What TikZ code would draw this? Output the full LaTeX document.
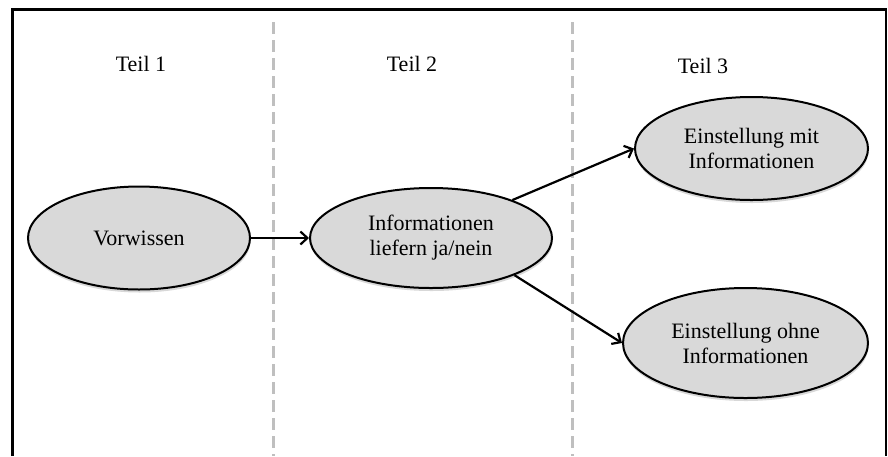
\documentclass[tikz,border=0pt]{standalone}
\usepackage{fontspec}
\setmainfont{Liberation Serif}
\usetikzlibrary{shapes.geometric,arrows.meta,shadows}
\definecolor{ellfill}{HTML}{D9D9D9}
\definecolor{dashgray}{HTML}{BFBFBF}
\tikzset{
  oval/.style={ellipse, draw=black, line width=2pt, fill=ellfill, inner sep=0pt,
    align=center, font=\fontsize{22}{25}\selectfont,
    drop shadow={shadow xshift=0.5pt, shadow yshift=-3pt, fill=black!30, opacity=0.5}},
  lbl/.style={font=\fontsize{22}{25}\selectfont, inner sep=0pt},
  conn/.style={line width=2.2pt, -{Straight Barb[length=7pt,width=13pt,line width=2.2pt]}},
  sep/.style={dashgray, line width=3pt, dash pattern=on 12pt off 6pt},
  frame/.style={black, line width=2.5pt}
}
\begin{document}
\begin{tikzpicture}[x=1pt,y=-1pt]
\useasboundingbox (0,0) rectangle (888,456);
\fill[white] (0,0) rectangle (888,456);
% frame (bottom edge lies outside the picture)
\draw[frame] (12.5,456) -- (12.5,9.5) -- (886,9.5) -- (886,456);
% separators
\draw[sep] (273,22) -- (273,456);
\draw[sep] (572,22) -- (572,456);
% labels
\node[lbl] (t1) at (141,64) {Teil 1};
\node[lbl] (t2) at (412,64) {Teil 2};
\node[lbl] (t3) at (703,66) {Teil 3};
% ellipses
\node[oval, minimum width=222pt, minimum height=103pt] (vor) at (139,238) {Vorwissen};
\node[oval, minimum width=242pt, minimum height=100pt] (info) at (431,238) {Informationen\\liefern ja/nein};
\node[oval, minimum width=233pt, minimum height=103pt] (mit) at (751.5,148.5) {Einstellung mit\\Informationen};
\node[oval, minimum width=245pt, minimum height=110pt] (ohne) at (745.5,343) {Einstellung ohne\\Informationen};
% connectors
\draw[conn] (vor.east) -- (info.west);
\draw[conn] (info.25) -- (mit.west);
\draw[conn] (info.-24) -- (ohne.west);
\end{tikzpicture}
\end{document}
